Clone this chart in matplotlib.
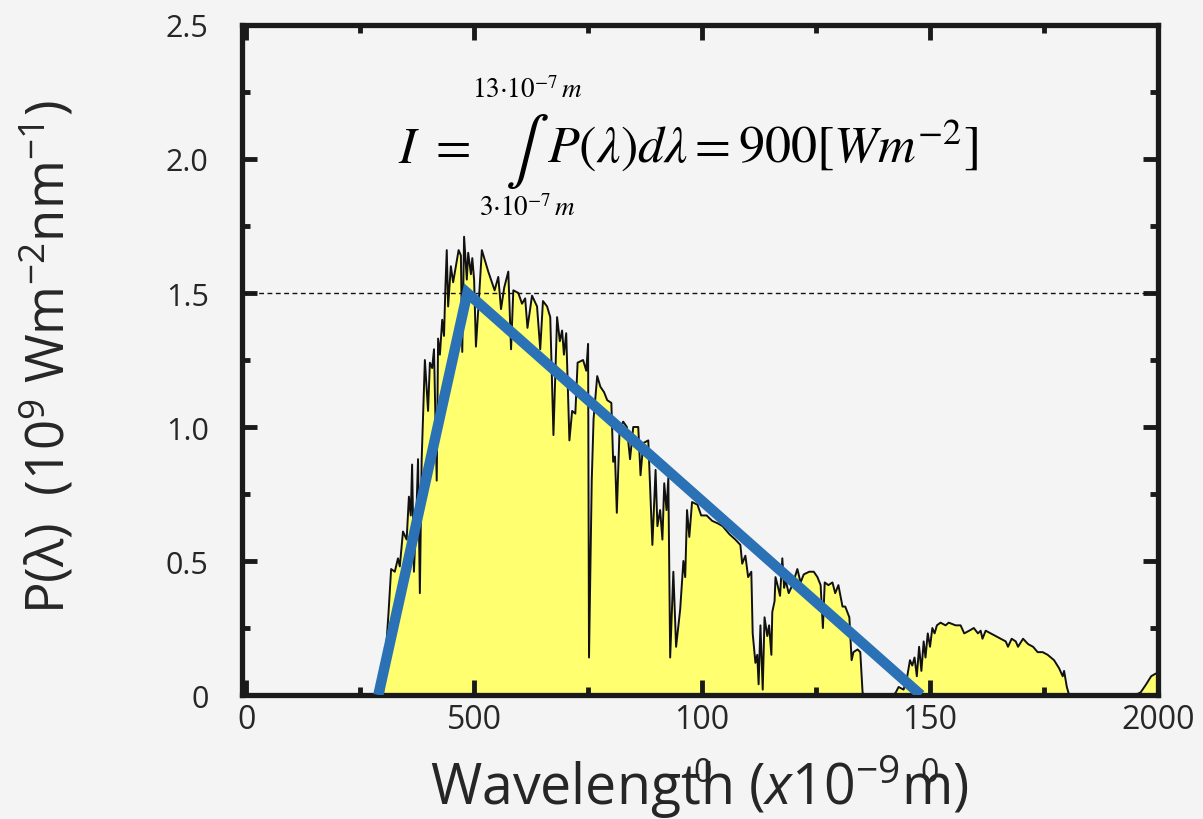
import matplotlib
matplotlib.use("Agg")
import matplotlib.pyplot as plt
from matplotlib import font_manager
from matplotlib.ticker import MultipleLocator

# solar spectrum at ground level (wavelength in nm, P in 1e9 W m^-2 nm^-1)
wavelength = [300, 312, 318, 326, 333, 337, 344, 352, 357, 361, 364, 368, 374, 377, 381, 385,
              392, 399, 403, 408, 412, 418, 421, 425, 430, 434, 437, 440, 443, 449, 454, 462,
              466, 471, 474, 478, 484, 487, 493, 496, 500, 504, 511, 517, 524, 531, 539, 545,
              553, 559, 566, 575, 581, 586, 597, 605, 612, 617, 627, 638, 645, 651, 660, 667,
              674, 682, 688, 693, 697, 702, 709, 715, 722, 727, 739, 746, 750, 752, 758, 762,
              770, 777, 785, 792, 801, 805, 809, 813, 819, 827, 835, 842, 849, 860, 865, 871,
              882, 891, 898, 902, 908, 913, 917, 922, 926, 930, 937, 943, 952, 959, 963, 967,
              972, 978, 990, 998, 1010, 1022, 1035, 1045, 1060, 1073, 1084, 1088, 1095, 1101, 1108, 1111,
              1117, 1121, 1124, 1128, 1133, 1137, 1143, 1147, 1152, 1154, 1159, 1161, 1167, 1171, 1176, 1180,
              1183, 1190, 1198, 1209, 1216, 1223, 1235, 1245, 1253, 1260, 1265, 1269, 1277, 1286, 1292, 1299,
              1308, 1314, 1323, 1328, 1332, 1341, 1347, 1352, 1355, 1420, 1425, 1431, 1442, 1450, 1456, 1461,
              1466, 1471, 1476, 1481, 1486, 1490, 1495, 1500, 1505, 1510, 1515, 1523, 1534, 1541, 1556, 1567,
              1575, 1586, 1596, 1605, 1611, 1615, 1622, 1633, 1644, 1655, 1666, 1671, 1679, 1688, 1693, 1704,
              1715, 1726, 1736, 1747, 1758, 1765, 1772, 1783, 1791, 1794, 1800, 1805, 1950, 1962, 1974, 1985,
              1995, 2000]
power = [0.00, 0.30, 0.47, 0.46, 0.51, 0.48, 0.61, 0.58, 0.74, 0.67, 0.86, 0.46, 0.71, 0.88, 0.38, 0.88,
         1.25, 1.06, 1.24, 1.22, 1.29, 0.80, 1.33, 1.27, 1.40, 1.34, 1.52, 1.66, 1.45, 1.60, 1.54, 1.62,
         1.66, 1.64, 1.28, 1.71, 1.55, 1.65, 1.57, 1.63, 1.55, 1.30, 1.49, 1.66, 1.62, 1.58, 1.54, 1.51,
         1.56, 1.44, 1.52, 1.58, 1.29, 1.51, 1.50, 1.46, 1.48, 1.37, 1.49, 1.45, 1.29, 1.47, 1.45, 1.41,
         0.97, 1.41, 1.32, 1.36, 1.27, 1.35, 0.95, 1.06, 1.05, 1.24, 1.25, 1.21, 1.31, 0.14, 0.80, 1.03,
         1.19, 1.15, 1.13, 1.10, 1.09, 0.87, 0.89, 0.68, 0.99, 1.02, 1.00, 0.88, 1.00, 1.00, 0.82, 0.94,
         0.95, 0.56, 0.84, 0.63, 0.69, 0.58, 0.79, 0.69, 0.81, 0.14, 0.46, 0.18, 0.32, 0.50, 0.44, 0.69,
         0.59, 0.72, 0.71, 0.67, 0.67, 0.65, 0.64, 0.63, 0.60, 0.58, 0.56, 0.49, 0.52, 0.44, 0.46, 0.23,
         0.12, 0.15, 0.04, 0.26, 0.02, 0.29, 0.22, 0.26, 0.15, 0.31, 0.35, 0.44, 0.40, 0.37, 0.51, 0.40,
         0.43, 0.38, 0.41, 0.47, 0.42, 0.45, 0.46, 0.46, 0.44, 0.41, 0.25, 0.42, 0.41, 0.42, 0.38, 0.41,
         0.33, 0.33, 0.29, 0.13, 0.16, 0.17, 0.16, 0.01, 0.00, 0.00, 0.01, 0.03, 0.02, 0.07, 0.13, 0.11,
         0.14, 0.07, 0.18, 0.09, 0.20, 0.14, 0.23, 0.18, 0.25, 0.23, 0.26, 0.27, 0.26, 0.27, 0.26, 0.26,
         0.23, 0.24, 0.25, 0.23, 0.24, 0.21, 0.24, 0.23, 0.22, 0.21, 0.20, 0.18, 0.21, 0.20, 0.18, 0.21,
         0.19, 0.18, 0.16, 0.16, 0.15, 0.14, 0.13, 0.10, 0.07, 0.09, 0.03, 0.00, 0.00, 0.01, 0.04, 0.07,
         0.08, 0.08]

# triangle approximation drawn over the spectrum
tri_wavelength = [290, 485, 1480]
tri_power = [0.0, 1.5, 0.0]

peak_level = 1.5
x_ticks = [0, 500, 1000, 1500, 2000]
x_ticklabels = ['0', '500', '100\n0', '150\n0', '2000']
y_ticks = [0, 0.5, 1.0, 1.5, 2.0, 2.5]
y_ticklabels = ['0', '0.5', '1.0', '1.5', '2.0', '2.5']

installed = {f.name for f in font_manager.fontManager.ttflist}
narrow = 'Liberation Sans Narrow' if 'Liberation Sans Narrow' in installed else 'Open Sans'
plt.rcParams['mathtext.fontset'] = 'custom'
plt.rcParams['mathtext.rm'] = narrow
plt.rcParams['mathtext.it'] = narrow + ':italic'

bg = '#f4f4f4'
fig = plt.figure(figsize=(12.03, 8.2), dpi=100, facecolor=bg)
ax = fig.add_axes([0.2012, 0.1512, 0.7614, 0.8171], facecolor=bg)

ax.fill_between(wavelength, power, 0, color='#ffff70', lw=0, zorder=1)
ax.plot(wavelength, power, color='#111111', lw=1.4, zorder=2)
ax.axhline(peak_level, color='#111111', lw=1.0, dashes=(3.5, 2.5), zorder=2)
ax.plot(tri_wavelength, tri_power, color='#2a71b5', lw=7.5,
        solid_joinstyle='miter', solid_capstyle='butt', zorder=3)

ax.set_xlim(-9, 2000)
ax.set_ylim(0, 2.5)
ax.set_xticks(x_ticks)
ax.set_xticklabels(x_ticklabels, fontsize=23, family=[narrow, 'DejaVu Sans'],
                   color='#262626', linespacing=1.8)
ax.set_yticks(y_ticks)
ax.set_yticklabels(y_ticklabels, fontsize=22, family=['Open Sans', 'DejaVu Sans'], color='#262626')
ax.xaxis.set_minor_locator(MultipleLocator(250))
ax.yaxis.set_minor_locator(MultipleLocator(0.25))
ax.tick_params(which='both', direction='in', width=3.5, top=True, right=True, colors='#1a1a1a')
ax.tick_params(which='major', length=11)
ax.tick_params(which='minor', length=6)
ax.tick_params(axis='x', which='major', pad=6, labelcolor='#262626')
ax.tick_params(axis='y', which='major', pad=24, labelcolor='#262626')
for sp in ax.spines.values():
    sp.set_linewidth(3.8)
    sp.set_color('#1a1a1a')

ax.set_xlabel('Wavelength ($x$10$^{-9}$m)', fontsize=40, family=[narrow, 'DejaVu Sans'],
              color='#262626', math_fontfamily='custom')
ax.xaxis.set_label_coords(0.499, -0.085)
ax.set_ylabel('P(λ)  (10$^{9}$ Wm$^{-2}$nm$^{-1}$)', fontsize=38,
              family=['Open Sans', 'DejaVu Sans'], color='#262626', math_fontfamily='custom')
ax.yaxis.set_label_coords(-0.180, 0.505)

# integral written out in pieces so the limits sit above and below the sign
eq_kw = dict(math_fontfamily='stix', color='black')
ax.text(333, 1.99, r'$I\ =$', fontsize=37, ha='left', va='baseline', **eq_kw)
ax.text(616, 2.03, r'$\int$', fontsize=47, ha='center', va='center', **eq_kw)
ax.text(660, 1.99, r'$P(\lambda)d\lambda = 900[Wm^{-2}]$', fontsize=37.5,
        ha='left', va='baseline', **eq_kw)
ax.text(616, 2.26, r'$13{\cdot}10^{-7}\,m$', fontsize=19.5, ha='center', va='center', **eq_kw)
ax.text(616, 1.82, r'$3{\cdot}10^{-7}\,m$', fontsize=19.5, ha='center', va='center', **eq_kw)

plt.savefig('out.png', dpi=100, facecolor=fig.get_facecolor())
plt.close()
